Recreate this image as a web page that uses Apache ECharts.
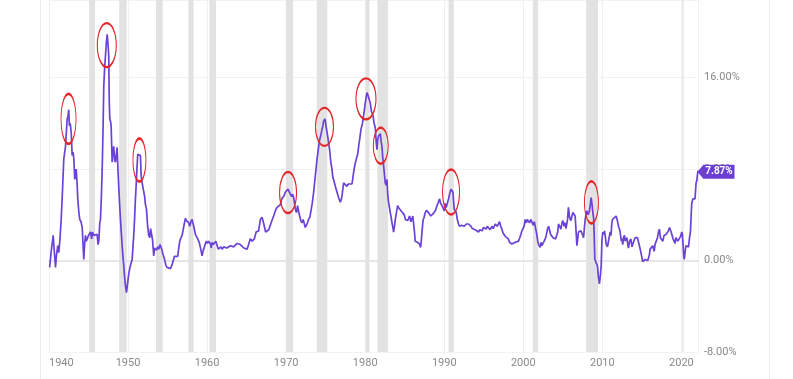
<!DOCTYPE html>
<html>
<head>
<meta charset="utf-8">
<script src="https://cdn.jsdelivr.net/npm/echarts@6/dist/echarts.min.js"></script>
<style>
html,body{margin:0;padding:0;background:#fff;}
#chart{width:793px;height:379px;}
</style>
</head>
<body>
<div id="chart"></div>
<script>
// US CPI inflation, year-over-year % (decimal year, value)
const cpiSeries = [
[1940.08,-0.6],[1940.25,0.6],[1940.37,0.7],[1940.53,2.2],[1940.62,1.3],[1940.82,-0.6],[1940.95,0.5],
[1941.11,1.3],[1941.24,0.7],[1941.40,2.0],[1941.54,3.6],[1941.70,6.0],[1941.87,8.9],
[1942.09,10.0],[1942.30,12.4],[1942.40,12.6],[1942.50,13.2],[1942.58,11.8],[1942.68,12.0],[1942.81,11.2],[1942.93,9.2],
[1943.05,9.5],[1943.14,8.9],[1943.26,7.1],[1943.44,8.0],[1943.55,6.8],[1943.64,5.4],[1943.78,4.2],[1943.89,3.6],
[1944.05,3.4],[1944.20,2.9],[1944.30,1.5],[1944.40,0.1],[1944.50,1.4],[1944.61,2.2],[1944.72,1.7],[1944.83,1.9],
[1945.00,2.2],[1945.25,2.5],[1945.40,1.9],[1945.50,2.5],[1945.66,2.2],[1945.85,2.3],
[1946.09,2.3],[1946.20,1.4],[1946.30,1.7],[1946.42,3.3],[1946.51,3.6],[1946.62,5.5],[1946.73,8.0],[1946.85,12.0],[1946.93,15.3],
[1947.05,17.0],[1947.14,17.9],[1947.25,19.0],[1947.36,19.8],[1947.46,19.0],[1947.56,17.9],[1947.62,14.0],[1947.69,12.4],[1947.78,12.2],[1947.86,11.8],[1947.99,8.6],
[1948.08,9.5],[1948.19,10.0],[1948.30,8.8],[1948.41,8.6],[1948.50,9.2],[1948.62,9.9],[1948.72,8.0],[1948.82,6.5],[1948.93,5.0],
[1949.04,3.6],[1949.15,2.4],[1949.25,1.3],[1949.35,0.4],[1949.46,-0.5],[1949.57,-1.5],[1949.67,-2.2],[1949.80,-2.8],[1949.88,-2.4],[1949.96,-1.9],
[1950.08,-1.2],[1950.21,-0.7],[1950.35,-0.3],[1950.52,0.1],[1950.62,1.2],[1950.72,2.2],[1950.85,4.0],[1950.92,5.2],
[1951.02,6.5],[1951.12,8.0],[1951.23,9.3],[1951.40,9.4],[1951.57,9.2],[1951.65,7.5],[1951.78,6.8],[1951.98,6.8],
[1952.10,5.6],[1952.20,4.9],[1952.33,4.5],[1952.48,3.0],[1952.62,2.2],[1952.75,2.0],[1952.85,2.8],[1952.96,2.8],
[1953.10,1.8],[1953.25,0.4],[1953.35,1.1],[1953.46,1.0],[1953.60,0.9],[1953.75,1.2],[1953.88,1.0],
[1954.05,1.4],[1954.18,1.3],[1954.30,0.9],[1954.40,0.6],[1954.51,0.7],[1954.62,0.1],[1954.78,-0.4],[1954.94,-0.6],
[1955.10,-0.5],[1955.36,-0.7],[1955.55,-0.4],[1955.70,-0.45],[1955.87,0.37],
[1956.10,0.4],[1956.28,0.37],[1956.40,1.0],[1956.54,1.7],[1956.70,2.0],[1956.84,2.2],
[1957.05,3.0],[1957.26,3.7],[1957.40,3.5],[1957.55,3.5],[1957.68,3.3],[1957.80,3.0],[1957.95,3.4],
[1958.10,3.6],[1958.20,3.3],[1958.31,3.0],[1958.52,2.3],[1958.65,2.2],[1958.81,1.9],
[1959.00,1.6],[1959.15,1.15],[1959.25,0.8],[1959.37,0.42],[1959.47,0.8],[1959.57,1.0],[1959.75,1.4],[1959.91,1.7],
[1960.05,1.5],[1960.20,1.7],[1960.32,1.6],[1960.42,1.44],[1960.53,1.1],[1960.63,1.6],[1960.78,1.4],[1960.92,1.3],
[1961.10,1.7],[1961.26,1.6],[1961.42,1.0],[1961.59,0.86],[1961.75,1.2],[1961.90,1.0],
[1962.10,1.2],[1962.31,1.3],[1962.50,1.1],[1962.73,1.15],[1962.95,1.3],
[1963.16,1.44],[1963.35,1.2],[1963.58,1.15],[1963.80,1.5],
[1964.00,1.6],[1964.20,1.4],[1964.42,1.3],[1964.65,1.1],[1964.85,1.0],
[1965.06,1.0],[1965.25,1.4],[1965.47,1.9],[1965.70,1.7],[1965.98,1.9],
[1966.20,2.5],[1966.52,2.6],[1966.74,3.6],[1966.95,3.8],
[1967.10,3.4],[1967.24,3.0],[1967.40,2.5],[1967.59,2.6],[1967.80,2.7],
[1968.00,2.75],[1968.20,3.5],[1968.42,3.9],[1968.65,4.4],[1968.85,4.65],
[1969.05,4.6],[1969.27,4.9],[1969.45,5.4],[1969.61,5.5],[1969.75,5.7],[1969.90,6.0],
[1970.10,6.1],[1970.24,6.25],[1970.40,6.0],[1970.53,6.0],[1970.70,5.6],[1970.82,5.8],[1970.95,5.5],
[1971.16,4.5],[1971.30,4.2],[1971.45,4.8],[1971.60,4.2],[1971.71,3.9],[1971.85,3.5],
[1972.01,3.3],[1972.15,3.6],[1972.30,3.5],[1972.42,2.9],[1972.55,2.75],[1972.70,3.3],[1972.84,3.6],
[1973.00,3.8],[1973.15,3.9],[1973.30,5.0],[1973.48,6.0],[1973.69,7.4],[1973.91,8.9],
[1974.08,9.8],[1974.24,10.6],[1974.40,11.0],[1974.54,11.5],[1974.65,11.8],[1974.74,12.2],[1974.90,12.4],[1974.96,12.2],
[1975.08,11.6],[1975.25,10.9],[1975.38,10.2],[1975.50,9.7],[1975.65,8.6],[1975.80,8.0],[1975.90,7.3],
[1976.00,7.1],[1976.22,6.5],[1976.43,6.0],[1976.64,5.5],[1976.85,5.1],
[1977.00,5.4],[1977.07,5.7],[1977.20,6.4],[1977.27,6.8],[1977.48,6.7],[1977.70,6.5],[1977.85,6.7],
[1978.03,6.8],[1978.33,6.7],[1978.53,7.7],[1978.70,8.4],[1978.88,8.9],
[1979.05,9.3],[1979.17,10.0],[1979.30,10.6],[1979.47,11.5],[1979.65,12.0],[1979.80,12.7],[1979.92,13.3],
[1980.01,13.8],[1980.12,14.3],[1980.23,14.7],[1980.33,14.5],[1980.43,14.4],[1980.55,14.0],[1980.64,13.8],[1980.80,13.0],[1980.99,12.7],
[1981.10,12.1],[1981.28,11.6],[1981.40,10.3],[1981.49,9.7],[1981.58,10.6],[1981.69,10.9],[1981.80,11.0],[1981.91,11.1],
[1982.02,10.4],[1982.12,10.0],[1982.22,9.0],[1982.33,8.3],[1982.45,7.4],[1982.54,6.8],[1982.65,6.6],[1982.75,7.1],[1982.85,5.8],[1982.96,5.1],
[1983.08,4.6],[1983.17,4.2],[1983.28,3.8],[1983.39,3.3],[1983.50,2.9],[1983.59,2.5],[1983.70,3.0],[1983.81,3.6],[1983.95,4.2],
[1984.10,4.8],[1984.25,4.6],[1984.44,4.5],[1984.60,4.3],[1984.78,4.35],[1984.95,4.0],
[1985.07,3.6],[1985.20,3.7],[1985.36,3.5],[1985.50,3.7],[1985.61,3.9],[1985.78,3.4],[1985.92,3.5],
[1986.02,3.9],[1986.12,3.8],[1986.22,2.6],[1986.33,1.7],[1986.50,1.7],[1986.62,1.6],[1986.75,1.5],[1986.88,1.44],
[1987.00,1.15],[1987.05,1.4],[1987.15,2.2],[1987.31,3.5],[1987.45,3.8],[1987.60,4.2],[1987.75,4.4],[1987.89,4.5],
[1988.00,4.2],[1988.14,4.1],[1988.30,3.9],[1988.45,3.9],[1988.60,4.1],[1988.74,4.1],[1988.90,4.4],
[1989.08,4.8],[1989.25,5.1],[1989.41,5.4],[1989.55,5.0],[1989.71,4.8],[1989.85,4.6],
[1990.00,4.35],[1990.12,5.0],[1990.25,4.65],[1990.40,4.8],[1990.54,5.4],[1990.70,5.9],[1990.85,6.25],[1990.98,6.1],
[1991.10,6.0],[1991.18,5.2],[1991.26,4.5],[1991.40,4.6],[1991.52,4.2],[1991.65,3.6],[1991.81,3.2],[1991.92,3.0],
[1992.02,2.9],[1992.20,3.1],[1992.36,3.2],[1992.50,3.0],[1992.65,3.1],[1992.80,3.2],
[1993.07,3.2],[1993.20,3.1],[1993.38,3.0],[1993.55,2.8],[1993.70,2.75],[1993.90,2.7],
[1994.13,2.75],[1994.34,2.5],[1994.50,2.7],[1994.64,2.75],[1994.80,2.6],[1994.97,2.9],
[1995.15,2.8],[1995.31,2.75],[1995.45,3.0],[1995.60,2.9],[1995.80,2.7],
[1996.03,3.0],[1996.20,2.8],[1996.45,3.2],[1996.70,3.0],[1996.85,3.2],[1996.99,3.4],
[1997.15,3.0],[1997.29,2.75],[1997.45,2.4],[1997.59,2.3],[1997.75,2.1],[1997.93,2.2],
[1998.10,1.9],[1998.26,1.6],[1998.40,1.6],[1998.56,1.44],[1998.75,1.5],[1998.98,1.6],
[1999.15,1.6],[1999.39,1.7],[1999.55,2.0],[1999.70,2.3],[1999.82,2.6],[1999.95,2.7],
[2000.10,3.0],[2000.24,3.6],[2000.40,3.3],[2000.50,3.6],[2000.66,3.6],[2000.80,3.3],[2000.95,3.6],
[2001.09,3.5],[2001.25,3.1],[2001.40,3.4],[2001.50,3.0],[2001.62,2.6],[2001.72,2.2],[2001.85,1.6],[2001.95,1.4],
[2002.05,1.3],[2002.14,1.15],[2002.25,1.6],[2002.35,1.3],[2002.48,1.44],[2002.64,1.7],[2002.77,1.9],[2002.90,2.2],
[2003.06,2.75],[2003.20,3.0],[2003.31,3.0],[2003.45,2.3],[2003.62,2.2],[2003.75,2.0],[2003.91,2.0],
[2004.10,1.9],[2004.25,1.9],[2004.35,2.5],[2004.45,3.2],[2004.60,3.0],[2004.75,2.75],[2004.90,3.3],
[2005.01,3.5],[2005.15,3.0],[2005.30,3.3],[2005.40,2.8],[2005.51,2.75],[2005.60,3.6],[2005.71,4.65],[2005.85,3.8],
[2006.02,3.5],[2006.15,3.6],[2006.27,4.2],[2006.40,4.1],[2006.56,3.9],[2006.68,2.5],[2006.78,1.3],[2006.90,2.0],[2006.98,2.5],
[2007.12,2.4],[2007.28,2.6],[2007.42,2.7],[2007.53,2.2],[2007.62,2.0],[2007.72,2.8],[2007.83,3.6],[2007.95,4.1],
[2008.04,4.35],[2008.20,4.0],[2008.37,4.35],[2008.50,5.0],[2008.58,5.5],[2008.68,5.0],[2008.80,4.2],[2008.90,3.7],[2008.96,2.4],
[2009.05,0.1],[2009.22,-0.2],[2009.38,-0.45],[2009.50,-1.4],[2009.63,-2.05],[2009.75,-1.3],[2009.85,-0.45],[2009.95,1.8],
[2010.06,2.5],[2010.17,2.3],[2010.27,2.6],[2010.40,2.0],[2010.48,1.44],[2010.65,1.2],[2010.77,1.3],[2010.90,1.2],[2010.99,2.5],
[2011.10,2.2],[2011.20,3.3],[2011.30,3.6],[2011.40,3.6],[2011.55,3.6],[2011.74,3.9],[2011.90,3.5],
[2012.04,3.0],[2012.15,2.8],[2012.25,2.5],[2012.40,1.7],[2012.47,1.9],[2012.58,1.4],[2012.67,2.0],[2012.80,2.2],[2012.88,1.7],
[2013.00,1.7],[2013.10,2.0],[2013.20,1.5],[2013.30,1.1],[2013.45,1.7],[2013.60,1.9],[2013.75,1.2],[2013.93,1.6],
[2014.05,1.5],[2014.15,2.0],[2014.30,2.1],[2014.44,2.0],[2014.60,2.0],[2014.69,1.3],[2014.85,0.8],
[2015.00,0.28],[2015.10,-0.1],[2015.28,-0.16],[2015.42,0.1],[2015.62,0.13],[2015.75,0.0],[2015.83,0.0],[2015.95,0.5],
[2016.04,1.0],[2016.20,0.9],[2016.38,1.3],[2016.55,0.8],[2016.68,1.44],[2016.85,1.6],[2016.97,2.0],
[2017.10,2.5],[2017.22,2.75],[2017.35,2.0],[2017.52,2.0],[2017.65,1.7],[2017.81,2.2],[2017.95,2.1],
[2018.07,2.3],[2018.20,2.4],[2018.36,2.6],[2018.50,2.9],[2018.57,2.9],[2018.70,2.5],[2018.79,2.6],[2018.95,1.9],
[2019.08,1.9],[2019.20,1.5],[2019.30,2.0],[2019.42,2.0],[2019.55,1.7],[2019.75,1.7],[2019.88,2.1],
[2020.05,2.5],[2020.12,2.3],[2020.20,1.5],[2020.30,0.3],[2020.36,0.1],[2020.45,0.6],[2020.56,1.3],[2020.76,1.3],[2020.90,1.2],
[2021.01,1.9],[2021.15,2.6],[2021.25,4.2],[2021.31,5.0],[2021.45,5.4],[2021.61,5.3],[2021.72,5.4],[2021.80,6.2],[2021.86,6.8],[2021.95,7.0],
[2022.03,7.5],[2022.10,7.87]
];

// NBER recessions (decimal years, start/end)
const recessions = [
[1945.08,1945.83],[1948.88,1949.83],[1953.54,1954.38],[1957.63,1958.29],[1960.29,1961.13],
[1969.96,1970.88],[1973.88,1975.21],[1980.04,1980.54],[1981.54,1982.88],[1990.54,1991.21],
[2001.21,2001.88],[2007.96,2009.46],[2020.13,2020.29]
];

// Highlighted inflation peaks (circled): centre [year, %]
const peakMarks = [
[1942.47,12.4],[1947.31,18.85],[1951.44,8.8],[1970.24,5.95],[1974.85,11.7],
[1980.10,14.15],[1981.97,10.05],[1990.86,6.0],[2008.62,5.1]
];
const peakEllipseSizes = [[15,50],[19,44],[13,43],[17,41],[18,38],[20,41],[15,36],[17,45],[14,42]];

const yTicks = [-8, 0, 8, 16];
const yTop = 22.8;
const xStart = 1940, xEnd = 2022.1;
const latestLabel = '7.87%';

const chart = echarts.init(document.getElementById('chart'), null, {renderer: 'canvas'});
const lineColor = '#6a42d8';
const ellipsePath = 'path://M50,0 A50,50 0 1,1 50,100 A50,50 0 1,1 50,0 Z';
const last = cpiSeries[cpiSeries.length - 1];

chart.setOption({
  animation: false,
  backgroundColor: '#ffffff',
  textStyle: {fontFamily: 'Roboto, "Noto Sans", sans-serif'},
  graphic: [
    {type: 'line', shape: {x1: 40.5, y1: 0, x2: 40.5, y2: 379}, style: {stroke: '#ececec', lineWidth: 1}, silent: true},
    {type: 'line', shape: {x1: 769.5, y1: 0, x2: 769.5, y2: 379}, style: {stroke: '#ececec', lineWidth: 1}, silent: true}
  ],
  grid: {left: 49, right: 95, top: 0, bottom: 27, containLabel: false},
  xAxis: {
    type: 'value', min: xStart, max: xEnd, interval: 10,
    axisLine: {show: true, lineStyle: {color: '#e6e6e6', width: 2}},
    axisTick: {show: false},
    splitLine: {show: true, lineStyle: {color: '#f0f0f0', width: 1}},
    axisLabel: {
      color: '#8a8a8a', fontSize: 11, margin: 6,
      showMaxLabel: false, alignMinLabel: 'left',
      formatter: v => String(Math.round(v))
    }
  },
  yAxis: {
    type: 'value', position: 'right', min: yTicks[0], max: yTop, interval: 8,
    axisLine: {show: false}, axisTick: {show: false},
    splitLine: {show: true, lineStyle: {color: '#f2f2f2', width: 1}},
    axisLabel: {
      color: '#8a8a8a', fontSize: 11, margin: 6, verticalAlign: 'middle', padding: [0, 0, 10, 0],
      showMaxLabel: false,
      formatter: v => v.toFixed(2) + '%'
    }
  },
  series: [
    {
      type: 'line', name: 'US Inflation Rate',
      data: cpiSeries, showSymbol: false, symbol: 'none', z: 3,
      lineStyle: {color: lineColor, width: 1.7},
      markArea: {
        silent: true, z: 1,
        itemStyle: {color: '#e2e2e2'},
        data: recessions.map(r => [{xAxis: r[0]}, {xAxis: r[1]}])
      },
      markPoint: {
        silent: true,
        symbol: 'path://M0,7 L6,0 L38,0 L38,14 L6,14 Z',
        symbolSize: [37, 14],
        symbolKeepAspect: false,
        symbolOffset: [18, 1],
        itemStyle: {color: '#6b3fd4'},
        label: {show: true, position: 'inside', offset: [3, 0], color: '#ffffff', fontWeight: 'bold', fontSize: 10, formatter: latestLabel},
        data: [{coord: last}]
      }
    },
    {
      type: 'scatter', name: 'peaks', z: 4, silent: true,
      symbol: ellipsePath, symbolKeepAspect: false,
      data: peakMarks.map((p, i) => ({value: p, symbolSize: peakEllipseSizes[i]})),
      itemStyle: {color: 'rgba(0,0,0,0)', borderColor: '#e3262b', borderWidth: 1.6, opacity: 1}
    }
  ]
});
</script>
</body>
</html>
